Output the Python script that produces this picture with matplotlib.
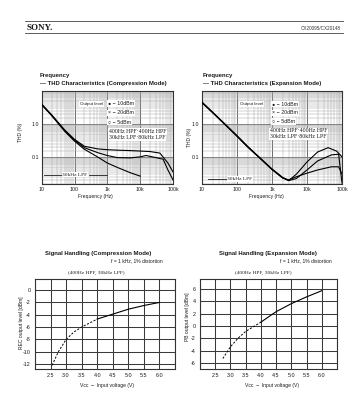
import numpy as np
import matplotlib
matplotlib.use("Agg")
import matplotlib.pyplot as plt
from matplotlib.lines import Line2D
from matplotlib.ticker import LogLocator, FixedLocator, NullFormatter

W, H = 349, 399

# ---------------- data ----------------
freq_ticks = [10, 100, 1000, 10000, 100000]
freq_tick_labels = ["10", "100", "1k", "10k", "100k"]
thd_ticks = [0.1, 1.0]
thd_tick_labels = ["0.1", "1.0"]

comp_freq_a = [10, 20, 50, 100, 200, 500, 1000, 2000, 5000, 10000, 20000, 40000, 70000, 100000]
comp_thd_a = [4.0, 1.9, 0.66, 0.34, 0.21, 0.175, 0.165, 0.16, 0.155, 0.15, 0.145, 0.13, 0.065, 0.035]
comp_freq_b = [10, 20, 50, 100, 200, 500, 1000, 2000, 5000, 10000, 15000, 30000, 50000, 70000, 100000]
comp_thd_b = [3.9, 1.85, 0.63, 0.32, 0.19, 0.135, 0.11, 0.095, 0.093, 0.1, 0.11, 0.095, 0.085, 0.04, 0.02]
comp_freq_c = [10, 20, 50, 100, 200, 500, 1000, 2000, 5000, 10000]
comp_thd_c = [3.8, 1.8, 0.6, 0.3, 0.17, 0.1, 0.065, 0.048, 0.033, 0.026]

exp_freq_a = [10, 20, 50, 100, 200, 500, 1000, 2000, 3000, 5000, 10000, 20000, 40000, 70000, 100000]
exp_thd_a = [4.6, 2.3, 0.9, 0.44, 0.21, 0.085, 0.043, 0.024, 0.019, 0.03, 0.07, 0.14, 0.19, 0.15, 0.1]
exp_freq_b = [10, 20, 50, 100, 200, 500, 1000, 2000, 3000, 5000, 10000, 20000, 50000, 80000, 100000]
exp_thd_b = [4.5, 2.25, 0.88, 0.43, 0.205, 0.083, 0.042, 0.023, 0.019, 0.022, 0.04, 0.075, 0.115, 0.12, 0.016]
exp_freq_c = [10, 20, 50, 100, 200, 500, 1000, 2000, 3000, 5000, 10000, 20000, 50000, 80000, 100000]
exp_thd_c = [4.4, 2.2, 0.86, 0.42, 0.2, 0.082, 0.041, 0.023, 0.02, 0.025, 0.032, 0.04, 0.05, 0.05, 0.03]

vcc_ticks = [2.5, 3.0, 3.5, 4.0, 4.5, 5.0, 5.5, 6.0]
rec_ticks = [0, -2, -4, -6, -8, -10, -12]
pb_ticks = [6, 4, 2, 0, -2, -4, -6]

comp_vcc = [2.55, 2.75, 3.0, 3.25, 3.5, 4.0, 4.5, 5.0, 5.5, 6.0]
comp_level = [-12.2, -10.0, -8.0, -6.8, -6.0, -4.7, -3.9, -3.1, -2.5, -2.0]
exp_vcc = [2.75, 3.0, 3.25, 3.5, 4.0, 4.5, 5.0, 5.5, 6.0]
exp_level = [-5.3, -3.4, -2.0, -0.9, 0.6, 2.3, 3.6, 4.7, 5.7]

SANS = ["Liberation Sans", "DejaVu Sans"]
SERIF = ["Liberation Serif", "DejaVu Serif"]
INK = "#1a1a1a"

fig = plt.figure(figsize=(W / 100, H / 100), dpi=100)
fig.patch.set_facecolor("white")


def rect(l, t, r, b):
    return [l / W, 1 - b / H, (r - l) / W, (b - t) / H]


def fx(x):
    return x / W


def fy(y):
    return 1 - y / H


# ---------------- header ----------------
fig.add_artist(Line2D([fx(25), fx(343)], [fy(21), fy(21)], color="#444", lw=0.6))
fig.add_artist(Line2D([fx(25), fx(343)], [fy(33), fy(33)], color="#444", lw=0.6))
fig.text(fx(27), fy(27.5), "SONY.", family=SERIF, weight="bold", fontsize=6.5,
         va="center", ha="left", color=INK)
fig.text(fx(341), fy(28), "CX20095/CX20148", family=SANS, fontsize=3.3,
         va="center", ha="right", color="#333")


# ---------------- THD charts ----------------
def thd_axes(pos, curves):
    ax = fig.add_axes(pos)
    ax.set_xscale("log")
    ax.set_yscale("log")
    ax.set_xlim(10, 100000)
    ax.set_ylim(0.015, 10)
    ax.xaxis.set_major_locator(FixedLocator(freq_ticks))
    ax.set_xticklabels(freq_tick_labels)
    ax.xaxis.set_minor_locator(LogLocator(base=10, subs=np.arange(2, 10)))
    ax.xaxis.set_minor_formatter(NullFormatter())
    ax.yaxis.set_major_locator(FixedLocator(thd_ticks))
    ax.set_yticklabels(thd_tick_labels)
    ax.yaxis.set_minor_locator(LogLocator(base=10, subs=np.arange(1, 10, 0.5)))
    ax.yaxis.set_minor_formatter(NullFormatter())
    ax.grid(which="major", color="#555", lw=0.6)
    ax.grid(which="minor", color="#a8a8a8", lw=0.35)
    ax.tick_params(which="both", length=0, pad=2, labelsize=3.8, colors=INK)
    for lab in ax.get_xticklabels() + ax.get_yticklabels():
        lab.set_family(SANS)
    for s in ax.spines.values():
        s.set_color("#333")
        s.set_linewidth(0.8)
    for fr, th in curves:
        ax.plot(fr, th, color="black", lw=0.8, zorder=3)
    return ax


ax1 = thd_axes(rect(41.7, 91, 173, 184),
               [(comp_freq_a, comp_thd_a), (comp_freq_b, comp_thd_b), (comp_freq_c, comp_thd_c)])
ax2 = thd_axes(rect(202, 91, 342, 184),
               [(exp_freq_a, exp_thd_a), (exp_freq_b, exp_thd_b), (exp_freq_c, exp_thd_c)])

bb = dict(facecolor="white", edgecolor="none", pad=0.6)

# compression titles / labels
fig.text(fx(40), fy(75), "Frequency", family=SANS, weight="bold", fontsize=4.3, va="center", color=INK)
fig.text(fx(40), fy(83), "— THD Characteristics (Compression Mode)", family=SANS, weight="bold",
         fontsize=4.3, va="center", color=INK)
fig.text(fx(20.5), fy(132), "THD (%)", family=SANS, fontsize=3.6, rotation=90,
         va="center", ha="center", color=INK)
fig.text(fx(95), fy(197), "Frequency (Hz)", family=SANS, fontsize=3.6, va="center", ha="center", color=INK)
fig.text(fx(80), fy(104), "Output level", family=SANS, fontsize=3.2, va="center", color=INK, bbox=bb)
fig.text(fx(108), fy(103.5), "● − 10dBm", family=SANS, fontsize=3.8, va="center", color=INK, bbox=bb)
fig.text(fx(108), fy(113), "× − 20dBm", family=SANS, fontsize=3.8, va="center", color=INK, bbox=bb)
fig.text(fx(108), fy(122), "○ − 5dBm", family=SANS, fontsize=3.8, va="center", color=INK, bbox=bb)
fig.text(fx(109), fy(131.5), "400Hz HPF·400Hz HPF", family=SERIF, fontsize=4.2, va="center", color=INK, bbox=bb)
fig.text(fx(109), fy(137.5), "30kHz LPF·80kHz LPF", family=SERIF, fontsize=4.2, va="center", color=INK, bbox=bb)
fig.text(fx(75), fy(174.5), "30kHz LPF", family=SERIF, fontsize=3.9, va="center", ha="center",
         color=INK, bbox=bb, zorder=5)
fig.add_artist(Line2D([fx(44), fx(61)], [fy(174.5), fy(174.5)], color=INK, lw=0.6))
fig.add_artist(Line2D([fx(89), fx(107)], [fy(174.5), fy(174.5)], color=INK, lw=0.6))

# expansion titles / labels
fig.text(fx(203), fy(75), "Frequency", family=SANS, weight="bold", fontsize=4.3, va="center", color=INK)
fig.text(fx(203), fy(83), "— THD Characteristics (Expansion Mode)", family=SANS, weight="bold",
         fontsize=4.3, va="center", color=INK)
fig.text(fx(189), fy(137), "THD (%)", family=SANS, fontsize=3.6, rotation=90,
         va="center", ha="center", color=INK)
fig.text(fx(266), fy(197), "Frequency (Hz)", family=SANS, fontsize=3.6, va="center", ha="center", color=INK)
fig.text(fx(240), fy(104), "Output level", family=SANS, fontsize=3.2, va="center", color=INK, bbox=bb)
fig.text(fx(272), fy(104), "● − 10dBm", family=SANS, fontsize=3.8, va="center", color=INK, bbox=bb)
fig.text(fx(272), fy(113), "× − 20dBm", family=SANS, fontsize=3.8, va="center", color=INK, bbox=bb)
fig.text(fx(272), fy(121.5), "○ − 5dBm", family=SANS, fontsize=3.8, va="center", color=INK, bbox=bb)
fig.text(fx(270), fy(131), "400Hz HPF·400Hz HPF", family=SERIF, fontsize=4.2, va="center", color=INK, bbox=bb)
fig.text(fx(270), fy(137), "30kHz LPF·80kHz LPF", family=SERIF, fontsize=4.2, va="center", color=INK, bbox=bb)
fig.text(fx(240), fy(179), "30kHz LPF", family=SERIF, fontsize=3.9, va="center", ha="center",
         color=INK, bbox=bb, zorder=5)
fig.add_artist(Line2D([fx(208), fx(226)], [fy(179), fy(179)], color=INK, lw=0.6))


# ---------------- signal handling charts ----------------
def sh_axes(pos, ylim, yticks, vcc, level):
    ax = fig.add_axes(pos)
    ax.set_xlim(2.0, 6.5)
    ax.set_ylim(*ylim)
    ax.xaxis.set_major_locator(FixedLocator(vcc_ticks))
    ax.set_xticklabels(["%.1f" % v for v in vcc_ticks])
    ax.xaxis.set_minor_locator(FixedLocator([2.0, 6.5]))
    ax.yaxis.set_major_locator(FixedLocator(yticks))
    ax.set_yticklabels(["%d" % v for v in yticks])
    ax.grid(which="major", color="#3a3a3a", lw=0.75)
    ax.grid(which="minor", axis="x", color="#3a3a3a", lw=0.75)
    ax.tick_params(which="both", length=0, pad=3, labelsize=3.9, colors=INK)
    for lab in ax.get_xticklabels() + ax.get_yticklabels():
        lab.set_family(SANS)
    for s in ax.spines.values():
        s.set_color("#333")
        s.set_linewidth(0.8)
    v = np.array(vcc)
    l = np.array(level)
    k = int(np.searchsorted(v, 4.0)) + 1
    ax.plot(v[:k], l[:k], color="black", lw=0.7, ls=(0, (2.2, 1.6)), zorder=3)
    ax.plot(v[k - 1:], l[k - 1:], color="black", lw=0.8, zorder=3)
    return ax


ax3 = sh_axes(rect(35, 279, 175, 369), (-12.8, 1.8), rec_ticks, comp_vcc, comp_level)
ax4 = sh_axes(rect(200, 279, 337, 369), (-7.0, 7.6), pb_ticks, exp_vcc, exp_level)

fig.text(fx(98), fy(254), "Signal Handling (Compression Mode)", family=SANS, weight="bold",
         fontsize=4.3, va="center", ha="center", color=INK)
fig.text(fx(163), fy(261), "f = 1 kHz, 1% distortion", family=SANS, fontsize=3.6,
         va="center", ha="right", color=INK)
fig.text(fx(96), fy(273), "(400Hz HPF, 30kHz LPF)", family=SERIF, fontsize=3.9,
         va="center", ha="center", color=INK)
fig.text(fx(21), fy(323), "REC output level [dBm]", family=SANS, fontsize=3.6, rotation=90,
         va="center", ha="center", color=INK)
fig.text(fx(107), fy(386), "Vcc  −  Input voltage (V)", family=SANS, fontsize=3.6,
         va="center", ha="center", color=INK)

fig.text(fx(268), fy(254), "Signal Handling (Expansion Mode)", family=SANS, weight="bold",
         fontsize=4.3, va="center", ha="center", color=INK)
fig.text(fx(332), fy(261), "f = 1 kHz, 1% distortion", family=SANS, fontsize=3.6,
         va="center", ha="right", color=INK)
fig.text(fx(263), fy(273), "(400Hz HPF, 30kHz LPF)", family=SERIF, fontsize=3.9,
         va="center", ha="center", color=INK)
fig.text(fx(187), fy(317), "PB output level [dBm]", family=SANS, fontsize=3.6, rotation=90,
         va="center", ha="center", color=INK)
fig.text(fx(272), fy(386), "Vcc  −  Input voltage (V)", family=SANS, fontsize=3.6,
         va="center", ha="center", color=INK)

fig.savefig("out.png", dpi=100, facecolor="white")
